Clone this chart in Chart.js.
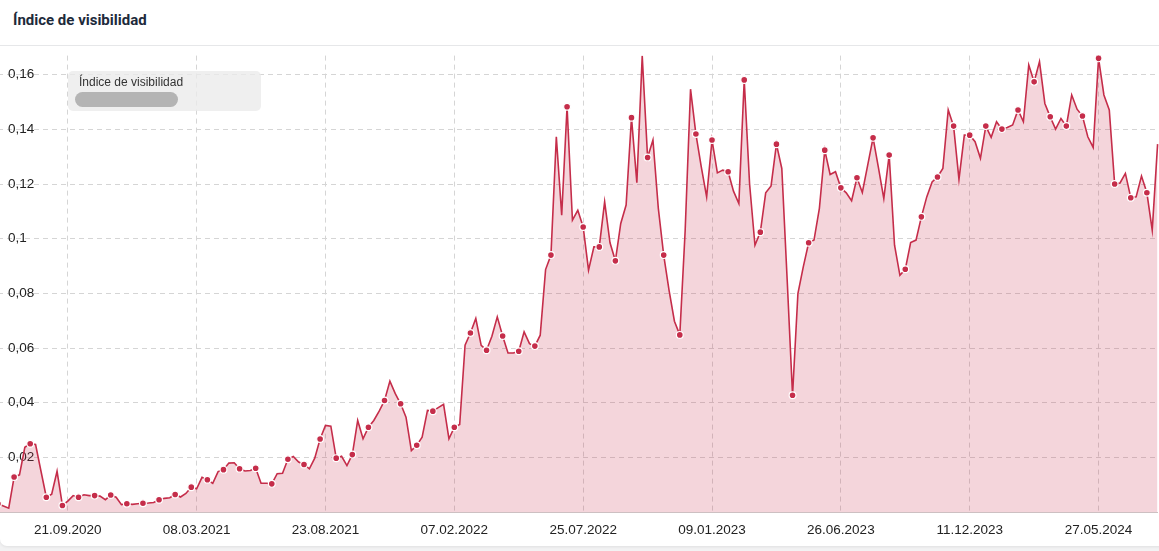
<!DOCTYPE html>
<html lang="es">
<head>
<meta charset="utf-8">
<title>Índice de visibilidad</title>
<script src="https://cdn.jsdelivr.net/npm/chart.js@4.4.1/dist/chart.umd.min.js"></script>
<style>
    html, body {
        margin: 0;
        padding: 0;
        width: 1159px;
        height: 551px;
        overflow: hidden;
        background: #f2f2f3;
        font-family: "Liberation Sans", Arial, sans-serif;
    }
    .card {
        position: absolute;
        left: 0;
        top: 0;
        width: 1180px;
        height: 546px;
        background: #fff;
        border-radius: 0 0 7px 7px;
        box-shadow: 0 1px 3px rgba(0, 0, 0, 0.08);
    }
    .card h2 {
        position: absolute;
        left: 13px;
        top: 11px;
        margin: 0;
        font-family: Roboto, "Liberation Sans", sans-serif;
        font-weight: 700;
        font-size: 15px;
        color: #1d2a3b;
    }
    .card .sep {
        position: absolute;
        left: 0;
        right: 0;
        top: 45px;
        height: 1px;
        background: #e6e7e9;
    }
    #chart {
        position: absolute;
        left: -2px;
        top: 46px;
    }
    .legend {
        position: absolute;
        left: 68px;
        top: 71px;
        width: 193px;
        height: 40px;
        border-radius: 5px;
        background: rgba(234, 234, 234, 0.78);
    }
    .legend span {
        position: absolute;
        left: 11px;
        top: 4px;
        font-size: 12px;
        color: #333;
    }
    .legend i {
        position: absolute;
        left: 7px;
        top: 20.5px;
        width: 103px;
        height: 15.5px;
        border-radius: 8px;
        background: #b4b4b4;
        filter: blur(0.6px);
    }
</style>
</head>
<body>
<div class="card">
    <h2>Índice de visibilidad</h2>
    <div class="sep"></div>
    <canvas id="chart" width="1162" height="499"></canvas>
    <div class="legend"><span>Índice de visibilidad</span><i></i></div>
</div>

<script>
// valores semanales (lunes), primera semana 22.06.2020
const values2020 = [
    0.0030, 0.0022, 0.0014, 0.0128, 0.0136, 0.0237, 0.0250, 0.0247, 0.0150, 0.0054,
    0.0065, 0.0149, 0.0024, 0.0040, 0.0060, 0.0054, 0.0063, 0.0060, 0.0060, 0.0058,
    0.0045, 0.0062, 0.0054, 0.0027, 0.0030, 0.0028, 0.0030, 0.0032
];
const values2021 = [
    0.0033, 0.0035, 0.0045, 0.0050, 0.0052, 0.0064, 0.0055, 0.0068, 0.0091, 0.0085,
    0.0127, 0.0118, 0.0105, 0.0148, 0.0155, 0.0179, 0.0180, 0.0158, 0.0150, 0.0152,
    0.0160, 0.0105, 0.0105, 0.0103, 0.0140, 0.0142, 0.0193, 0.0203, 0.0183, 0.0174,
    0.0158, 0.0197, 0.0267, 0.0317, 0.0314, 0.0197, 0.0204, 0.0170, 0.0210, 0.0335,
    0.0268, 0.0310, 0.0335, 0.0369, 0.0408, 0.0479, 0.0433, 0.0396, 0.0347, 0.0225,
    0.0244, 0.0274
];
const values2022 = [
    0.0372, 0.0369, 0.0382, 0.0394, 0.0268, 0.0310, 0.0320, 0.0610, 0.0655, 0.0708,
    0.0610, 0.0592, 0.0643, 0.0714, 0.0644, 0.0582, 0.0582, 0.0588, 0.0659, 0.0616,
    0.0607, 0.0647, 0.0887, 0.0940, 0.1373, 0.1086, 0.1483, 0.1068, 0.1104, 0.1043,
    0.0885, 0.0970, 0.0970, 0.1135, 0.0985, 0.0919, 0.1056, 0.1123, 0.1443, 0.1205,
    0.1669, 0.1297, 0.1361, 0.1111, 0.0940, 0.0811, 0.0698, 0.0648, 0.1030, 0.1547,
    0.1383, 0.1263
];
const values2023 = [
    0.1153, 0.1361, 0.1241, 0.1251, 0.1245, 0.1174, 0.1129, 0.1581, 0.1200, 0.0976,
    0.1024, 0.1168, 0.1193, 0.1346, 0.1257, 0.0850, 0.0427, 0.0799, 0.0897, 0.0985,
    0.0995, 0.1111, 0.1324, 0.1235, 0.1245, 0.1186, 0.1168, 0.1139, 0.1223, 0.1169,
    0.1269, 0.1369, 0.1260, 0.1147, 0.1306, 0.0976, 0.0866, 0.0888, 0.0986, 0.0995,
    0.1080, 0.1153, 0.1208, 0.1226, 0.1257, 0.1471, 0.1412, 0.1217, 0.1379, 0.1379,
    0.1355, 0.1294
];
const values2024 = [
    0.1412, 0.1371, 0.1428, 0.1401, 0.1407, 0.1416, 0.1471, 0.1428, 0.1636, 0.1574,
    0.1648, 0.1495, 0.1446, 0.1401, 0.1440, 0.1412, 0.1526, 0.1474, 0.1449, 0.1373,
    0.1334, 0.1660, 0.1526, 0.1471, 0.1200, 0.1204, 0.1239, 0.1150, 0.1153, 0.1229,
    0.1168, 0.1031, 0.1346
];
const visibilityValues = [].concat(values2020, values2021, values2022, values2023, values2024);

// etiquetas del eje x que se muestran
const shownTicks = [
    '21.09.2020', '08.03.2021', '23.08.2021', '07.02.2022', '25.07.2022',
    '09.01.2023', '26.06.2023', '11.12.2023', '27.05.2024'
];

const firstWeek = Date.UTC(2020, 5, 22);
const weekLabels = visibilityValues.map((v, i) => {
    const d = new Date(firstWeek + i * 7 * 86400000);
    const dd = String(d.getUTCDate()).padStart(2, '0');
    const mm = String(d.getUTCMonth() + 1).padStart(2, '0');
    return dd + '.' + mm + '.' + d.getUTCFullYear();
});

const lineColor = '#c52d4a';
const gridColor = '#d5d5d5';
const markerShiftWeek = 84; // a partir de aqui los puntos marcados cambian de fase

function isMarker(i) {
    return i < markerShiftWeek ? i % 3 === 0 : i % 3 === 1;
}

function formatTick(v) {
    return String(+v.toFixed(2)).replace('.', ',');
}

const canvas = document.getElementById('chart');

new Chart(canvas, {
    type: 'line',
    data: {
        labels: weekLabels,
        datasets: [
            {
                label: 'Índice de visibilidad',
                data: visibilityValues,
                borderColor: lineColor,
                borderWidth: 1.6,
                backgroundColor: 'rgba(200, 45, 75, 0.2)',
                fill: 'origin',
                tension: 0,
                pointRadius: c => isMarker(c.dataIndex) ? 3.4 : 0,
                pointHoverRadius: 0,
                pointBackgroundColor: lineColor,
                pointBorderColor: '#fff',
                pointBorderWidth: 1.2
            }
        ]
    },
    options: {
        responsive: false,
        animation: false,
        layout: {
            autoPadding: false,
            padding: { top: 9.6, right: 2.4, left: 0, bottom: 0 }
        },
        plugins: {
            legend: { display: false },
            tooltip: { enabled: false }
        },
        scales: {
            x: {
                grid: {
                    drawTicks: false,
                    // los ticks sin etiqueta ya se descartan, solo quedan las fechas visibles
                    color: c => c.tick && c.tick.label ? gridColor : 'transparent'
                },
                border: { color: '#cdc0c2', dash: [5, 4] },
                ticks: {
                    autoSkip: false,
                    maxRotation: 0,
                    minRotation: 0,
                    padding: 10,
                    color: '#222',
                    font: { family: '"Liberation Sans", Arial, sans-serif', size: 13.5 },
                    callback: (v, i) => shownTicks.includes(weekLabels[i]) ? weekLabels[i] : null
                },
                afterFit: s => { s.height = 33; }
            },
            y: {
                min: 0,
                max: 0.167,
                grid: {
                    drawTicks: false,
                    color: c => c.tick && c.tick.value > 0 ? gridColor : 'transparent'
                },
                border: { display: false, dash: [5, 4] },
                ticks: {
                    mirror: true,
                    stepSize: 0.02,
                    includeBounds: false,
                    padding: 10,
                    color: '#222',
                    font: { family: '"Liberation Sans", Arial, sans-serif', size: 13.5 },
                    callback: v => v === 0 ? null : formatTick(v)
                },
                afterFit: s => {
                    // etiquetas dentro del grafico: sin ancho ni margen extra arriba/abajo
                    s.width = 0;
                    s.paddingTop = 0;
                    s.paddingBottom = 0;
                }
            }
        }
    }
});
</script>
</body>
</html>
